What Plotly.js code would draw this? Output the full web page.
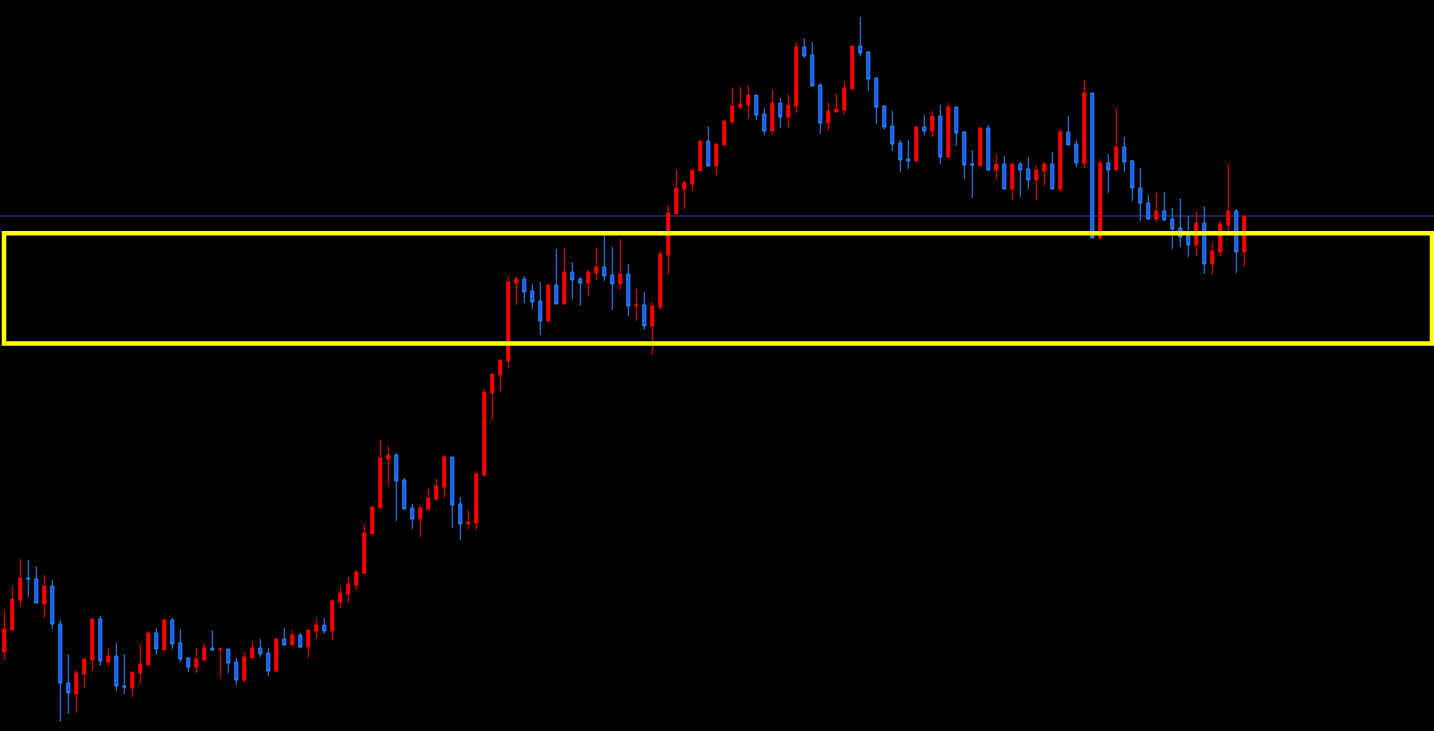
<!DOCTYPE html>
<html>
<head>
<meta charset="utf-8">
<script src="https://cdn.plot.ly/plotly-3.0.1.min.js"></script>
<style>
  html, body { margin: 0; padding: 0; background: #000; overflow: hidden; }
  #chart { width: 1434px; height: 731px; }
</style>
</head>
<body>
<div id="chart"></div>
<script>
// OHLC values (price units, arbitrary scale)
const opens = [79,101,131,153,152,127,145,107,48,37,57,71,112,69,75,45,43,58,66,98,
  81,111,88,73,64,71,83,81,82,69,51,73,83,78,60,92,86,96,84,100,
  106,100,129,137,146,158,197,223,272,276,251,223,212,222,232,244,274,227,207,208,
  256,338,356,370,448,452,440,430,410,446,427,459,452,448,458,464,456,447,457,425,
  426,405,424,476,517,542,547,560,590,565,586,609,624,626,636,617,600,628,614,625,
  684,676,646,608,619,621,642,685,679,653,625,605,588,572,570,604,600,615,574,624,
  599,567,565,603,561,567,542,567,562,551,560,567,542,599,587,568,638,493,568,561,
  584,570,543,528,512,520,512,503,495,486,508,467,479,506,520,479];
const highs = [120,144,172,171,165,156,151,111,77,61,72,112,115,83,88,77,59,87,100,103,
  112,113,102,74,83,88,101,83,82,73,79,89,92,83,92,103,101,98,101,112,
  113,131,144,154,161,207,224,291,285,278,253,227,226,242,252,276,274,234,221,260,
  342,357,371,455,455,455,447,449,447,482,483,469,454,461,483,496,484,492,467,442,
  439,429,480,526,561,551,561,590,605,588,610,643,644,646,636,623,641,633,637,689,
  693,689,648,629,638,649,685,714,680,653,626,620,591,591,604,616,620,626,628,624,
  600,581,604,606,576,575,567,569,574,566,569,579,602,615,591,651,638,572,577,623,
  594,571,563,536,538,539,523,533,515,520,525,488,510,567,522,515];
const lows = [71,101,125,134,128,113,102,9,17,18,43,61,65,65,40,37,34,47,66,76,
  81,82,69,59,58,70,81,54,58,46,49,73,74,55,59,86,86,83,73,93,
  97,91,123,128,141,157,197,223,246,210,222,202,194,220,230,233,203,191,202,201,
  254,311,340,363,426,428,422,396,410,427,427,432,425,435,451,450,421,441,415,410,
  401,376,421,456,517,522,541,560,565,556,586,607,622,613,611,596,596,603,604,618,
  673,645,597,600,619,616,642,675,640,607,601,580,559,562,570,596,594,567,573,585,
  552,533,565,561,551,542,532,534,542,531,545,542,539,586,564,563,493,491,538,560,
  559,530,510,511,509,510,482,484,474,475,457,456,475,500,458,464];
const closes = [102,132,153,152,128,145,107,48,38,58,72,112,70,75,45,44,59,67,98,82,
  111,87,72,64,72,83,81,82,68,51,74,83,77,60,92,86,96,84,101,106,
  100,130,138,147,159,198,224,273,276,250,222,212,223,233,245,274,226,207,209,257,
  339,357,371,449,452,439,429,410,446,427,459,451,448,459,464,455,447,457,425,426,
  405,425,477,518,543,548,561,590,565,587,610,625,627,636,616,600,628,614,626,684,
  675,645,608,620,622,643,685,678,652,624,604,587,571,570,604,600,615,574,624,598,
  566,566,603,561,567,542,567,561,551,561,567,542,599,586,568,638,493,568,561,584,
  569,543,528,512,520,511,502,494,486,508,467,480,507,520,479,515];

// Horizontal level line and support/resistance zone (price units)
const levelLine = 515;
const zoneLow = 387.5;
const zoneHigh = 497.7;

const barIndex = opens.map((_, i) => i);

const trace = {
  type: 'candlestick',
  x: barIndex,
  open: opens,
  high: highs,
  low: lows,
  close: closes,
  increasing: { line: { color: '#ff0000', width: 1 }, fillcolor: '#ff0000' },
  decreasing: { line: { color: '#1e90ff', width: 1 }, fillcolor: '#2d4cff' },
  whiskerwidth: 0,
  hoverinfo: 'skip',
  showlegend: false
};

const layout = {
  width: 1434,
  height: 731,
  margin: { l: 0, r: 0, t: 0, b: 0, pad: 0 },
  paper_bgcolor: '#000000',
  plot_bgcolor: '#000000',
  boxgap: 0.45,
  showlegend: false,
  xaxis: {
    range: [-0.5375, 178.7125],
    visible: false,
    showgrid: false,
    zeroline: false,
    rangeslider: { visible: false },
    fixedrange: true
  },
  yaxis: {
    range: [0, 731],
    visible: false,
    showgrid: false,
    zeroline: false,
    fixedrange: true
  },
  shapes: [
    {
      type: 'line', xref: 'paper', yref: 'y',
      x0: 0, x1: 1, y0: levelLine, y1: levelLine,
      line: { color: '#4a3caa', width: 1 },
      layer: 'below'
    },
    {
      type: 'rect', xref: 'paper', yref: 'y',
      x0: 0.0028, x1: 0.9986, y0: zoneLow, y1: zoneHigh,
      line: { color: '#ffff00', width: 4.5 },
      fillcolor: 'rgba(0,0,0,0)',
      layer: 'above'
    }
  ]
};

Plotly.newPlot('chart', [trace], layout, { displayModeBar: false, staticPlot: true });
</script>
</body>
</html>
